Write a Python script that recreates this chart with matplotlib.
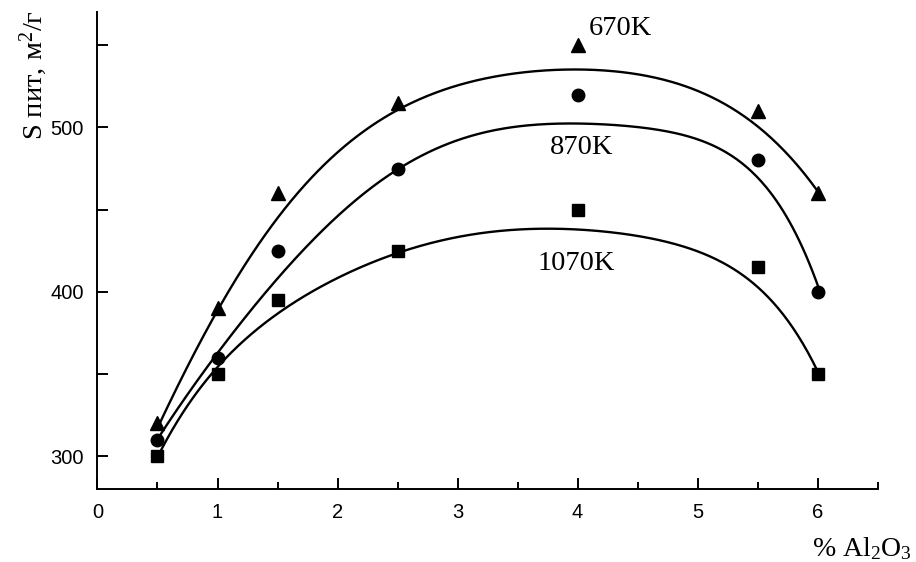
import numpy as np
import matplotlib
matplotlib.use('Agg')
from matplotlib import pyplot as plt
from matplotlib.ticker import MultipleLocator

# % Al2O3
al2o3 = [0.5, 1.0, 1.5, 2.5, 4.0, 5.5, 6.0]

# S пит, м2/г (точки)
s_670 = [320, 390, 460, 515, 550, 510, 460]
s_870 = [310, 360, 425, 475, 520, 480, 400]
s_1070 = [300, 350, 395, 425, 450, 415, 350]

# сглаживающие кривые
c670_x = [0.5, 1.0, 1.19, 1.47, 1.86, 1.94, 2.51, 3.0, 3.02, 3.52, 3.77, 3.94, 4.77, 4.85, 5.19, 5.5, 5.74, 6.0]
c670_y = [318, 386, 411, 446, 476, 481, 509, 525, 524, 534, 537, 537, 526, 525, 515, 502, 486, 460]
c870_x = [0.5, 1.0, 1.19, 1.47, 1.86, 1.94, 2.51, 3.0, 3.02, 3.6, 3.77, 3.94, 4.77, 4.85, 5.19, 5.5, 5.74, 5.88, 6.0]
c870_y = [311, 361, 381, 405, 439, 444, 472, 492, 490, 502, 504, 505, 496, 494, 486, 470, 448, 427, 402]
c1070_x = [0.5, 1.0, 1.19, 1.47, 1.86, 1.94, 2.51, 3.02, 3.35, 3.6, 3.88, 4.77, 4.85, 5.19, 5.5, 5.74, 5.88, 6.0]
c1070_y = [300, 352, 369, 387, 404, 406, 422, 433, 438, 438, 440, 429, 427, 419, 404, 383, 369, 351]

labels = ['670K', '870K', '1070K']

plt.rcParams['mathtext.default'] = 'regular'

fig = plt.figure(figsize=(9.16, 5.62), dpi=100)
ax = fig.add_axes([0.1064, 0.1294, 0.8518, 0.8487])

x = np.array(al2o3)
xs = np.linspace(0.5, 6.0, 400)
curves = [(c670_x, c670_y), (c870_x, c870_y), (c1070_x, c1070_y)]
for (cx, cy), ys, m, ms in zip(curves, [s_670, s_870, s_1070], ['^', 'o', 's'], [10, 9, 8.4]):
    p = np.polyfit(cx, cy, 6)
    ax.plot(xs, np.polyval(p, xs), color='black', lw=1.7)
    ax.plot(x, ys, linestyle='none', marker=m, ms=ms, color='black')

serif = 'Liberation Serif'
ax.text(4.09, 560, labels[0], fontsize=20.5, family=serif, ha='left', va='center')
ax.text(4.03, 488, labels[1], fontsize=20.5, family=serif, ha='center', va='center')
ax.text(3.99, 417, labels[2], fontsize=20.5, family=serif, ha='center', va='center')

ax.set_xlim(0, 6.5)
ax.set_ylim(280, 570)
ax.xaxis.set_major_locator(MultipleLocator(1))
ax.xaxis.set_minor_locator(MultipleLocator(0.5))
ax.yaxis.set_major_locator(MultipleLocator(100))
ax.yaxis.set_minor_locator(MultipleLocator(50))

for s in ['top', 'right']:
    ax.spines[s].set_visible(False)
for s in ['left', 'bottom']:
    ax.spines[s].set_linewidth(1.4)

ax.tick_params(axis='x', which='major', direction='in', length=8, width=1.4, pad=10)
ax.tick_params(axis='x', which='minor', direction='in', length=5, width=1.4)
ax.tick_params(axis='y', which='both', direction='in', length=8, width=1.4, pad=10)
ax.tick_params(axis='both', labelsize=14.5)
for t in ax.get_xticklabels() + ax.get_yticklabels():
    t.set_family('Liberation Sans')

fig.text(33 / 916, 1 - 75 / 562, 'S пит, м$^2$/г', rotation=90, fontsize=20.5,
         family=serif, ha='center', va='center')
fig.text(812 / 916, 6 / 562, '% Al$_2$O$_3$', fontsize=20, family=serif,
         ha='left', va='baseline')

fig.savefig('out.png', dpi=100)
